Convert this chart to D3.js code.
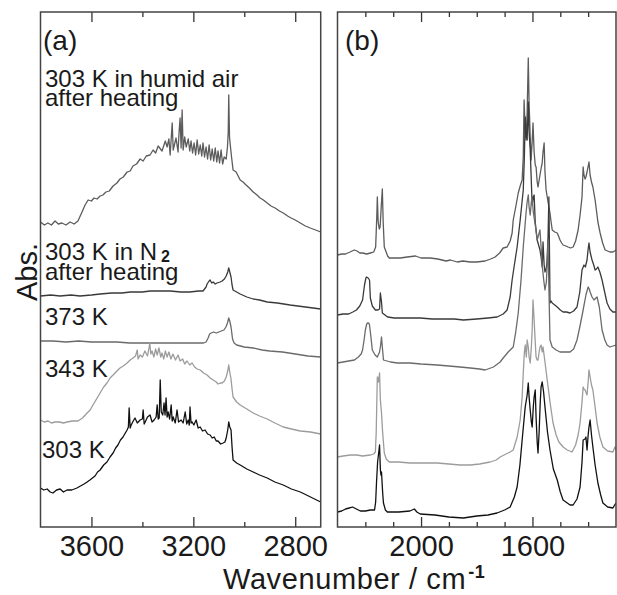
<!DOCTYPE html>
<html>
<head>
<meta charset="utf-8">
<script src="https://cdn.jsdelivr.net/npm/d3@7"></script>
<style>
  body { margin: 0; background: #fff; }
  svg { display: block; font-family: "Liberation Sans", Arial, sans-serif; }
</style>
</head>
<body>
<script>
'use strict';

// panel (a), 3800-2700 cm-1, [wavenumber, abs] (offsets already included)
const humidA = [[3800,3.05],[3785,3.02],[3771,3.04],[3757,3.02],[3743,3.06],[3730,3.03],[3716,3.04],[3700,3.02],[3684,3.05],[3668,3.03],[3653,3.06],[3637,3.15],[3625,3.22],[3613,3.27],[3600,3.26],[3590,3.29],[3578,3.28],[3566,3.31],[3555,3.32],[3543,3.35],[3530,3.36],[3515,3.41],[3500,3.44],[3488,3.48],[3475,3.50],[3460,3.55],[3448,3.56],[3437,3.61],[3423,3.63],[3409,3.68],[3397,3.66],[3385,3.71],[3370,3.72],[3358,3.77],[3348,3.74],[3338,3.81],[3323,3.76],[3310,3.86],[3303,3.80],[3296,3.88],[3291,3.72],[3283,4.04],[3279,3.77],[3268,3.89],[3260,3.75],[3256,3.95],[3252,4.09],[3248,3.79],[3244,4.17],[3240,3.77],[3234,3.90],[3228,3.80],[3220,3.88],[3214,3.76],[3209,3.86],[3203,3.74],[3197,3.84],[3191,3.72],[3185,3.87],[3179,3.73],[3173,3.82],[3167,3.71],[3162,3.84],[3156,3.70],[3150,3.80],[3144,3.68],[3138,3.82],[3132,3.67],[3126,3.78],[3120,3.66],[3114,3.79],[3108,3.65],[3103,3.76],[3097,3.64],[3091,3.77],[3085,3.63],[3079,3.70],[3071,3.68],[3066,3.80],[3063,3.95],[3061,4.32],[3058,3.90],[3055,3.82],[3050,3.70],[3044,3.57],[3032,3.55],[3016,3.47],[3005,3.45],[2993,3.42],[2980,3.39],[2965,3.35],[2950,3.32],[2938,3.29],[2925,3.27],[2910,3.24],[2895,3.21],[2879,3.19],[2862,3.16],[2847,3.14],[2830,3.11],[2816,3.09],[2800,3.07],[2780,3.04],[2760,3.01],[2741,2.99],[2720,2.97],[2700,2.95]]
const nitrogenA = [[3800,2.31],[3760,2.32],[3723,2.31],[3680,2.32],[3645,2.31],[3600,2.32],[3566,2.33],[3520,2.34],[3480,2.34],[3448,2.35],[3400,2.35],[3370,2.36],[3330,2.36],[3290,2.36],[3250,2.35],[3213,2.35],[3180,2.36],[3162,2.36],[3150,2.40],[3146,2.43],[3138,2.46],[3134,2.47],[3128,2.44],[3122,2.45],[3114,2.43],[3107,2.44],[3095,2.45],[3087,2.46],[3078,2.48],[3071,2.51],[3065,2.55],[3061,2.59],[3057,2.55],[3052,2.50],[3048,2.42],[3044,2.37],[3030,2.35],[3016,2.33],[2990,2.30],[2965,2.28],[2940,2.27],[2910,2.25],[2870,2.24],[2820,2.22],[2760,2.20],[2700,2.18]]
const k373A = [[3800,1.86],[3750,1.86],[3700,1.85],[3650,1.86],[3600,1.85],[3550,1.85],[3500,1.85],[3450,1.84],[3400,1.84],[3350,1.84],[3300,1.84],[3250,1.84],[3200,1.84],[3160,1.84],[3150,1.85],[3142,1.89],[3136,1.93],[3130,1.94],[3120,1.95],[3110,1.94],[3100,1.95],[3090,1.96],[3080,1.97],[3072,2.00],[3066,2.04],[3061,2.09],[3057,2.06],[3052,2.00],[3046,1.88],[3040,1.84],[3030,1.82],[3000,1.80],[2965,1.79],[2930,1.77],[2900,1.76],[2850,1.75],[2800,1.73],[2750,1.71],[2700,1.70]]
const k343A = [[3800,1.07],[3785,1.05],[3770,1.06],[3757,1.04],[3743,1.05],[3725,1.05],[3710,1.04],[3696,1.05],[3675,1.06],[3653,1.06],[3635,1.09],[3617,1.14],[3605,1.17],[3594,1.22],[3580,1.28],[3566,1.34],[3552,1.40],[3539,1.44],[3527,1.49],[3515,1.52],[3500,1.56],[3488,1.59],[3475,1.61],[3460,1.64],[3448,1.67],[3437,1.69],[3427,1.71],[3420,1.77],[3417,1.68],[3409,1.72],[3400,1.70],[3390,1.76],[3380,1.71],[3374,1.79],[3371,1.84],[3367,1.73],[3362,1.76],[3355,1.70],[3348,1.78],[3342,1.72],[3335,1.79],[3328,1.70],[3323,1.74],[3316,1.68],[3310,1.76],[3303,1.70],[3296,1.75],[3288,1.68],[3280,1.73],[3270,1.67],[3260,1.72],[3252,1.66],[3242,1.68],[3234,1.63],[3225,1.66],[3214,1.62],[3205,1.64],[3195,1.60],[3185,1.58],[3173,1.57],[3160,1.54],[3146,1.52],[3134,1.49],[3122,1.47],[3110,1.45],[3103,1.43],[3095,1.44],[3087,1.44],[3078,1.46],[3071,1.50],[3065,1.56],[3061,1.62],[3057,1.55],[3052,1.48],[3048,1.38],[3044,1.30],[3030,1.25],[3016,1.22],[2990,1.18],[2965,1.14],[2940,1.11],[2910,1.08],[2880,1.04],[2847,1.00],[2815,0.98],[2780,0.96],[2740,0.95],[2700,0.93]]
const k303A = [[3800,0.39],[3787,0.37],[3774,0.38],[3762,0.35],[3751,0.34],[3737,0.37],[3723,0.38],[3710,0.35],[3696,0.37],[3677,0.37],[3657,0.39],[3643,0.41],[3629,0.43],[3617,0.45],[3606,0.47],[3596,0.49],[3586,0.51],[3576,0.55],[3566,0.57],[3552,0.62],[3539,0.65],[3527,0.70],[3515,0.74],[3505,0.79],[3496,0.82],[3486,0.87],[3476,0.90],[3467,0.94],[3460,0.97],[3455,1.00],[3452,1.19],[3448,0.99],[3444,1.02],[3436,1.06],[3429,1.09],[3420,1.04],[3409,1.07],[3400,1.08],[3397,1.17],[3393,1.03],[3389,1.05],[3380,1.10],[3370,1.12],[3362,1.05],[3354,1.07],[3346,1.10],[3342,1.22],[3338,1.08],[3334,1.09],[3330,1.47],[3326,1.15],[3320,1.12],[3315,1.24],[3311,1.12],[3307,1.29],[3303,1.10],[3299,1.15],[3293,1.08],[3287,1.22],[3283,1.06],[3279,1.10],[3271,1.04],[3264,1.17],[3258,1.05],[3248,1.07],[3240,1.04],[3232,1.15],[3226,1.03],[3220,1.07],[3216,1.02],[3213,1.20],[3209,1.04],[3205,1.05],[3198,1.02],[3189,1.07],[3181,0.99],[3173,1.00],[3164,0.96],[3154,0.97],[3144,0.93],[3134,0.92],[3126,0.89],[3118,0.90],[3110,0.86],[3103,0.86],[3093,0.83],[3083,0.84],[3076,0.85],[3071,0.89],[3065,0.97],[3061,1.05],[3057,1.00],[3052,0.97],[3048,0.80],[3044,0.67],[3030,0.64],[3016,0.62],[2990,0.58],[2965,0.55],[2940,0.52],[2910,0.49],[2880,0.45],[2847,0.42],[2815,0.38],[2780,0.35],[2740,0.30],[2700,0.25]]

// panel (b), 2300-1300 cm-1
const humidB = [[2300,2.72],[2285,2.73],[2271,2.73],[2255,2.75],[2240,2.77],[2230,2.76],[2220,2.74],[2210,2.74],[2195,2.73],[2182,2.74],[2170,2.75],[2163,2.80],[2159,3.10],[2157,3.30],[2154,3.05],[2150,2.98],[2147,3.00],[2143,3.20],[2139,3.38],[2136,3.05],[2132,2.80],[2128,2.77],[2120,2.71],[2114,2.69],[2095,2.69],[2074,2.69],[2050,2.70],[2020,2.71],[2000,2.69],[1967,2.69],[1940,2.68],[1910,2.66],[1895,2.67],[1870,2.65],[1850,2.66],[1823,2.65],[1800,2.65],[1770,2.66],[1750,2.68],[1734,2.70],[1718,2.74],[1705,2.79],[1691,2.80],[1680,2.86],[1673,2.94],[1669,3.07],[1660,3.20],[1651,3.34],[1643,3.42],[1637,3.47],[1633,3.70],[1630,4.27],[1626,3.95],[1623,3.87],[1619,4.15],[1615,4.69],[1612,4.24],[1608,3.90],[1605,3.67],[1601,3.85],[1598,4.04],[1594,3.75],[1590,3.62],[1587,3.60],[1583,3.45],[1580,3.40],[1573,3.52],[1568,3.60],[1565,3.64],[1562,3.75],[1558,3.84],[1555,3.55],[1551,3.37],[1544,3.25],[1537,3.14],[1533,3.05],[1529,2.97],[1520,2.95],[1511,2.94],[1505,2.90],[1501,2.87],[1495,2.84],[1490,2.82],[1480,2.81],[1472,2.80],[1463,2.79],[1454,2.80],[1445,2.86],[1436,2.97],[1429,3.12],[1422,3.30],[1418,3.60],[1415,3.52],[1411,3.48],[1408,3.50],[1404,3.55],[1397,3.65],[1393,3.52],[1388,3.45],[1383,3.40],[1375,3.27],[1365,3.05],[1357,2.94],[1348,2.84],[1339,2.77],[1330,2.76],[1322,2.75],[1311,2.75],[1305,2.76],[1300,2.77]]
const nitrogenB = [[2300,2.12],[2280,2.13],[2260,2.13],[2245,2.15],[2232,2.17],[2220,2.21],[2210,2.27],[2203,2.42],[2198,2.49],[2196,2.50],[2190,2.49],[2185,2.47],[2182,2.29],[2175,2.21],[2164,2.17],[2155,2.17],[2149,2.18],[2146,2.34],[2142,2.25],[2139,2.14],[2120,2.10],[2096,2.09],[2050,2.09],[2003,2.09],[1960,2.08],[1920,2.08],[1880,2.08],[1848,2.07],[1800,2.08],[1760,2.09],[1727,2.10],[1705,2.13],[1691,2.17],[1680,2.30],[1673,2.47],[1665,2.62],[1655,2.80],[1644,3.07],[1633,3.37],[1629,3.70],[1626,4.10],[1622,3.90],[1619,3.87],[1615,4.25],[1612,3.95],[1608,3.77],[1604,3.45],[1601,3.22],[1597,3.30],[1594,3.32],[1590,3.05],[1583,2.87],[1578,2.82],[1573,2.77],[1569,2.70],[1565,2.60],[1562,2.85],[1558,2.62],[1555,2.55],[1551,2.58],[1548,2.64],[1544,2.90],[1541,3.30],[1539,2.80],[1537,2.24],[1533,2.26],[1529,2.24],[1520,2.22],[1511,2.20],[1500,2.17],[1490,2.15],[1478,2.15],[1465,2.14],[1452,2.16],[1440,2.20],[1430,2.35],[1422,2.57],[1415,2.62],[1410,2.60],[1404,2.67],[1400,2.78],[1397,2.84],[1393,2.75],[1386,2.67],[1380,2.62],[1375,2.57],[1370,2.58],[1365,2.60],[1358,2.55],[1350,2.47],[1340,2.34],[1332,2.24],[1322,2.18],[1311,2.15],[1300,2.15]]
const k373B = [[2300,1.64],[2280,1.65],[2260,1.66],[2239,1.67],[2225,1.70],[2215,1.73],[2210,1.77],[2204,1.88],[2200,1.97],[2195,2.03],[2192,2.04],[2188,2.04],[2185,2.02],[2180,1.90],[2175,1.77],[2165,1.72],[2157,1.70],[2149,1.75],[2145,1.82],[2142,1.90],[2139,1.80],[2135,1.67],[2110,1.65],[2085,1.64],[2040,1.64],[2000,1.63],[1942,1.62],[1900,1.61],[1860,1.60],[1823,1.59],[1790,1.58],[1770,1.57],[1740,1.60],[1716,1.65],[1705,1.69],[1687,1.75],[1669,1.80],[1660,1.95],[1651,2.14],[1641,2.47],[1633,2.80],[1623,3.14],[1619,3.25],[1615,3.32],[1612,3.20],[1608,3.12],[1604,3.25],[1601,3.29],[1597,3.15],[1590,3.02],[1583,2.87],[1578,2.92],[1573,2.97],[1569,2.80],[1565,2.62],[1560,2.48],[1555,2.37],[1550,2.45],[1546,2.70],[1544,2.87],[1541,2.40],[1537,1.87],[1529,1.80],[1515,1.77],[1501,1.75],[1485,1.75],[1465,1.75],[1452,1.78],[1440,1.87],[1430,2.00],[1418,2.17],[1408,2.32],[1404,2.36],[1400,2.40],[1396,2.38],[1393,2.35],[1386,2.30],[1379,2.27],[1372,2.29],[1368,2.30],[1360,2.20],[1350,1.97],[1340,1.87],[1332,1.82],[1322,1.80],[1311,1.81],[1300,1.82]]
const k343B = [[2300,0.70],[2280,0.71],[2253,0.72],[2230,0.72],[2210,0.71],[2182,0.72],[2170,0.73],[2164,0.75],[2161,0.95],[2157,1.50],[2153,1.45],[2149,1.54],[2147,1.35],[2146,1.27],[2142,1.14],[2138,0.95],[2132,0.74],[2125,0.68],[2114,0.65],[2080,0.65],[2040,0.64],[2000,0.64],[1942,0.64],[1900,0.63],[1860,0.62],[1823,0.62],[1790,0.63],[1752,0.65],[1730,0.67],[1716,0.70],[1695,0.73],[1680,0.75],[1669,0.77],[1655,0.90],[1644,1.07],[1637,1.30],[1633,1.54],[1629,1.75],[1626,1.82],[1622,1.70],[1619,1.87],[1615,1.80],[1612,1.70],[1608,1.64],[1604,1.80],[1601,1.97],[1598,2.27],[1594,2.07],[1590,1.85],[1587,1.70],[1583,1.67],[1580,1.67],[1576,1.75],[1573,1.80],[1569,1.82],[1565,1.75],[1562,1.80],[1555,1.65],[1547,1.47],[1537,1.25],[1526,1.04],[1515,0.92],[1505,0.85],[1490,0.80],[1475,0.77],[1458,0.75],[1445,0.82],[1436,0.92],[1429,1.04],[1422,1.25],[1418,1.40],[1415,1.38],[1411,1.37],[1404,1.32],[1400,1.45],[1397,1.57],[1393,1.50],[1388,1.42],[1383,1.37],[1375,1.20],[1368,1.04],[1358,0.90],[1347,0.80],[1330,0.76],[1311,0.75],[1304,0.80],[1300,0.77]]
const k303B = [[2300,0.15],[2285,0.16],[2271,0.18],[2258,0.19],[2246,0.20],[2232,0.18],[2218,0.16],[2200,0.16],[2182,0.17],[2167,0.17],[2163,0.25],[2160,0.44],[2156,0.65],[2153,0.72],[2149,0.82],[2146,0.57],[2144,0.52],[2142,0.55],[2138,0.35],[2135,0.24],[2128,0.17],[2121,0.15],[2080,0.15],[2040,0.16],[2024,0.18],[2015,0.15],[2003,0.13],[1950,0.12],[1900,0.10],[1848,0.09],[1800,0.11],[1760,0.12],[1727,0.14],[1700,0.17],[1680,0.20],[1665,0.30],[1655,0.40],[1645,0.62],[1637,0.87],[1630,1.08],[1626,1.20],[1619,1.32],[1615,1.44],[1612,1.30],[1608,1.17],[1604,1.05],[1601,1.00],[1597,1.20],[1594,1.30],[1590,1.37],[1587,1.10],[1583,0.85],[1580,0.74],[1576,0.95],[1572,1.25],[1569,1.40],[1565,1.45],[1560,1.35],[1555,1.20],[1546,0.95],[1537,0.77],[1525,0.58],[1511,0.47],[1500,0.35],[1490,0.27],[1475,0.24],[1465,0.22],[1454,0.22],[1440,0.28],[1429,0.40],[1422,0.65],[1418,0.87],[1411,0.88],[1408,0.90],[1404,0.77],[1400,0.92],[1397,1.00],[1393,1.07],[1388,0.92],[1383,0.80],[1375,0.62],[1365,0.44],[1355,0.32],[1347,0.24],[1330,0.20],[1311,0.19],[1305,0.22],[1300,0.24]]

const majorTicksA = [3600, 3200, 2800]
const minorTicksA = [3400, 3000]
const majorTicksB = [2000, 1600]
const minorTicksB = [2200, 2100, 1900, 1800, 1700, 1500, 1400]

const curveLabels = [
  ["303 K in humid air", "after heating"],
  ["303 K in N", "after heating"],
  ["373 K"],
  ["343 K"],
  ["303 K"]
]

const lineColors = ['#5c5c5c', '#3a3a3a', '#6a6a6a', '#9c9c9c', '#111111']

const m = {
  width: 617,
  height: 595,
  top: 12,
  bottom: 527
}
const fontFamily = '"Liberation Sans", Arial, sans-serif'

const svg = d3.select('body')
  .append('svg')
  .attr('width', m.width)
  .attr('height', m.height)

const yScale = d3.scaleLinear()
  .domain([0, 5.15])
  .range([m.bottom, m.top])

makePanel('a', 40.5, 320.7, [3800, 2700], majorTicksA, minorTicksA,
  [humidA, nitrogenA, k373A, k343A, k303A])
makePanel('b', 337.5, 616, [2300, 1300], majorTicksB, minorTicksB,
  [humidB, nitrogenB, k373B, k343B, k303B])
makeLabels()


function makePanel(id, left, right, domain, major, minor, series) {
  const xScale = d3.scaleLinear()
    .domain(domain)
    .range([left, right])

  svg.append('clipPath')
    .attr('id', 'clip-' + id)
    .append('rect')
    .attr('x', left)
    .attr('y', m.top)
    .attr('width', right - left)
    .attr('height', m.bottom - m.top)

  const line = d3.line()
    .x(d => xScale(d[0]))
    .y(d => yScale(d[1]))

  const g = svg.append('g').attr('clip-path', 'url(#clip-' + id + ')')
  series.forEach((s, i) => {
    g.append('path')
      .datum(s)
      .attr('d', line)
      .attr('fill', 'none')
      .attr('stroke', lineColors[i])
      .attr('stroke-width', 1.3)
      .attr('stroke-linejoin', 'round')
  })

  drawTicks(xScale, major, minor)

  svg.append('rect')
    .attr('x', left)
    .attr('y', m.top)
    .attr('width', right - left)
    .attr('height', m.bottom - m.top)
    .attr('fill', 'none')
    .attr('stroke', '#444')
    .attr('stroke-width', 1.5)
}

function drawTicks(xScale, major, minor) {
  const styleAxis = sel => {
    sel.select('.domain').remove()
    sel.attr('font-size', 29).attr('font-family', fontFamily)
    sel.selectAll('line').attr('stroke', '#333').attr('stroke-width', 1.3)
    sel.selectAll('text').attr('fill', '#1a1a1a')
  }

  svg.append('g')
    .attr('transform', 'translate(0,' + m.bottom + ')')
    .call(d3.axisBottom(xScale).tickValues(major).tickSize(-10).tickPadding(8).tickFormat(d3.format('d')))
    .call(styleAxis)
  svg.append('g')
    .attr('transform', 'translate(0,' + m.bottom + ')')
    .call(d3.axisBottom(xScale).tickValues(minor).tickSize(-5).tickFormat(''))
    .call(styleAxis)
  svg.append('g')
    .attr('transform', 'translate(0,' + m.top + ')')
    .call(d3.axisTop(xScale).tickValues(major).tickSize(-10).tickFormat(''))
    .call(styleAxis)
  svg.append('g')
    .attr('transform', 'translate(0,' + m.top + ')')
    .call(d3.axisTop(xScale).tickValues(minor).tickSize(-5).tickFormat(''))
    .call(styleAxis)
}

function makeLabels() {
  const txt = (x, y, s, size) => svg.append('text')
    .attr('x', x)
    .attr('y', y)
    .attr('fill', '#1a1a1a')
    .style('font-size', size + 'px')
    .text(s)

  txt(43, 50, '(a)', 28)
  txt(345, 50, '(b)', 28)

  // curve annotations in panel (a)
  const rows = [[87, 106], [260, 280], [325], [377], [458]]
  curveLabels.forEach((lines, i) => {
    lines.forEach((s, j) => {
      const t = txt(i == 4 ? 42 : 45, rows[i][j], s, 24)
      if (i == 1 && j == 0) {
        t.append('tspan')
          .attr('dx', 4)
          .attr('dy', 2)
          .style('font-size', '16px')
          .style('font-weight', 'bold')
          .text('2')
      }
    })
  })

  svg.append('text')
    .attr('transform', 'translate(37, 272)rotate(-90)')
    .attr('text-anchor', 'middle')
    .attr('fill', '#1a1a1a')
    .style('font-size', '29px')
    .text('Abs.')

  const xl = txt(223, 589, 'Wavenumber / cm', 29)
    .style('letter-spacing', '0.6px')
  xl.append('tspan')
    .attr('dx', 2)
    .attr('dy', -11)
    .style('font-size', '18px')
    .style('font-weight', 'bold')
    .text('-1')
}
</script>
</body>
</html>
